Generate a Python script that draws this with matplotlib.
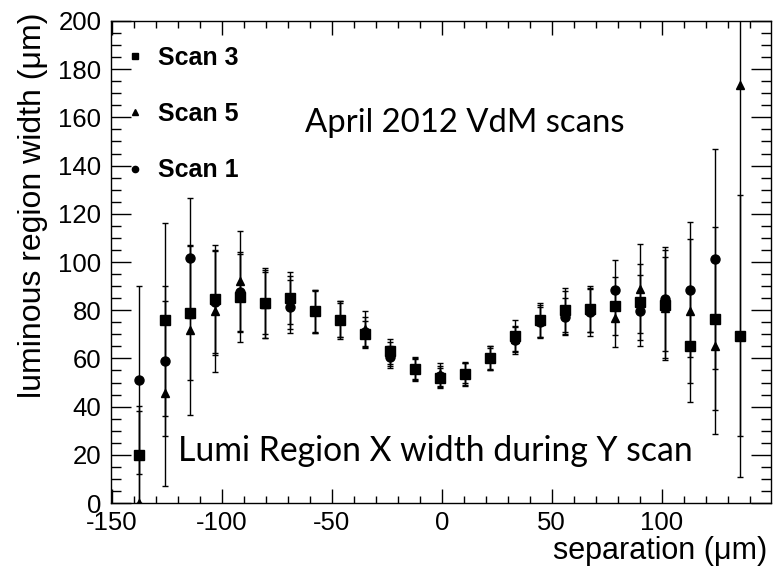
import numpy as np
import matplotlib.pyplot as plt
from matplotlib.lines import Line2D
from matplotlib.ticker import MultipleLocator

# separation points (um), shared by all three scans
sep = [-137.4, -125.8, -114.5, -103.0, -91.7, -80.5, -69.0, -57.6, -46.2, -34.9,
       -23.6, -12.3, -0.9, 10.6, 21.8, 33.3, 44.7, 55.8, 67.3, 78.8, 90.1,
       101.5, 113.0, 124.3, 135.6]

# Scan 3 (squares)
scan3 = [20.1, 76.0, 79.0, 84.7, 85.5, 83.0, 85.0, 79.5, 76.0, 70.2, 63.0, 55.6, 52.0,
         53.6, 60.0, 69.5, 76.0, 80.1, 80.6, 81.7, 83.3, 82.0, 65.0, 76.4, 69.4]
scan3_err = [20.0, 40.0, 28.0, 22.5, 18.5, 14.5, 10.7, 9.0, 7.8, 5.5, 5.2, 4.9, 4.2,
             5.0, 5.0, 6.6, 7.0, 9.2, 9.6, 12.0, 15.7, 22.8, 23.0, 38.0, 58.5]

# Scan 5 (triangles)
scan5 = [0.0, 45.5, 71.6, 79.5, 92.0, 82.5, 83.0, 79.5, 76.5, 72.0, 62.0, 55.8, 53.5,
         54.0, 60.0, 68.0, 75.5, 79.0, 80.0, 76.7, 89.0, 81.0, 79.6, 65.3, 173.3]
scan5_err = [38.0, 38.5, 35.0, 25.0, 21.0, 14.0, 11.0, 9.0, 7.5, 7.5, 5.0, 4.5, 4.8,
             4.3, 5.0, 5.5, 6.8, 8.8, 9.0, 11.8, 18.6, 21.0, 29.8, 36.6, 145.6]

# Scan 1 (circles), no point at the last separation
scan1 = [51.0, 59.0, 101.7, 83.3, 87.5, 83.0, 81.5, 79.5, 76.0, 71.0, 60.5, 55.4, 52.5,
         53.5, 60.0, 67.5, 75.0, 77.3, 79.2, 88.5, 79.8, 84.6, 88.5, 101.2, np.nan]
scan1_err = [39.0, 31.0, 25.0, 21.7, 16.0, 13.0, 11.0, 8.5, 7.0, 6.0, 4.6, 4.5, 4.5,
             4.5, 4.5, 5.7, 6.5, 7.6, 10.0, 12.5, 14.6, 21.5, 27.9, 45.5, np.nan]

plt.rcParams['font.family'] = ['Liberation Sans', 'DejaVu Sans']
plt.rcParams['axes.unicode_minus'] = False

fig = plt.figure(figsize=(7.79, 5.70), dpi=100)
ax = fig.add_axes([0.1425, 0.1175, 0.8472, 0.8457])

eb = dict(color='black', ecolor='black', elinewidth=1.0, capsize=2.0, capthick=1.0, linestyle='none')
ax.errorbar(sep, scan1, yerr=scan1_err, fmt='o', markersize=6.5, **eb)
ax.errorbar(sep, scan5, yerr=scan5_err, fmt='^', markersize=5.5, **eb)
ax.errorbar(sep, scan3, yerr=scan3_err, fmt='s', markersize=6.5, **eb)

ax.set_xlim(-150.3, 149.6)
ax.set_ylim(0, 200)
ax.xaxis.set_major_locator(MultipleLocator(50))
ax.xaxis.set_minor_locator(MultipleLocator(10))
ax.yaxis.set_major_locator(MultipleLocator(20))
ax.yaxis.set_minor_locator(MultipleLocator(5))
ax.tick_params(which='both', direction='in', top=True, right=True, width=1.0)
ax.tick_params(axis='y', which='major', length=14.5, labelsize=18.5, pad=7)
ax.tick_params(axis='y', which='minor', length=7.2)
ax.tick_params(axis='x', which='major', length=10, labelsize=18.5, pad=6)
ax.tick_params(axis='x', which='minor', length=5)
for s in ax.spines.values():
    s.set_linewidth(1.0)

ax.set_xlabel('separation (\u03bcm)', fontsize=22, loc='right')
ax.xaxis.set_label_coords(0.994, -0.068)
ax.set_ylabel('luminous region width (\u03bcm)', fontsize=23, loc='top')
ax.yaxis.set_label_coords(-0.095, 1.018)

handles = [Line2D([], [], marker='s', color='black', linestyle='none', markersize=4.5),
           Line2D([], [], marker='^', color='black', linestyle='none', markersize=4.5),
           Line2D([], [], marker='o', color='black', linestyle='none', markersize=4.5)]
ax.legend(handles, ['Scan 3', 'Scan 5', 'Scan 1'], loc='upper left', frameon=False,
          prop={'family': 'Liberation Sans', 'weight': 'bold', 'size': 18},
          handlelength=0.6, handletextpad=0.6, labelspacing=1.29,
          bbox_to_anchor=(0.01, 0.969), borderaxespad=0.0)

ax.text(0.536, 0.788, 'April 2012 VdM scans', transform=ax.transAxes, fontsize=23.7,
        family=['Lato', 'DejaVu Sans'], ha='center', va='center')
ax.text(0.492, 0.108, 'Lumi Region X width during Y scan', transform=ax.transAxes, fontsize=24.3,
        family=['Lato', 'DejaVu Sans'], ha='center', va='center')

fig.savefig('out.png', dpi=100)
